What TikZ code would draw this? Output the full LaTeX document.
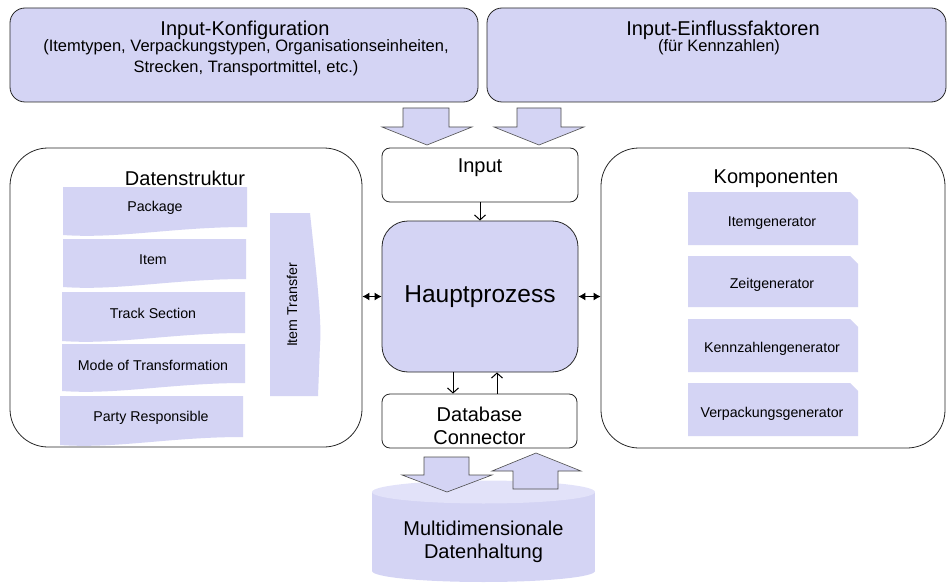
\documentclass[tikz,border=0pt]{standalone}
\usepackage{fontspec}
\setmainfont{Liberation Sans}
\usetikzlibrary{arrows.meta}
\definecolor{lav}{RGB}{212,212,244}
\definecolor{lavtop}{RGB}{226,226,249}
\begin{document}
\begin{tikzpicture}[x=1pt,y=-1pt,
  topbox/.style={draw=black!85, line width=0.8pt, fill=lav, rounded corners=15pt, inner sep=0pt},
  panel/.style={draw=black!85, line width=0.8pt, fill=white, rounded corners=38pt, inner sep=0pt},
  wbox/.style={draw=black!85, line width=0.8pt, fill=white, rounded corners=8pt, inner sep=0pt},
  hbox/.style={draw=black!85, line width=0.8pt, fill=lav, rounded corners=26pt, inner sep=0pt},
  lbl/.style={inner sep=0pt, align=center},
  big/.style={font=\fontsize{20}{23}\selectfont},
  sub/.style={font=\fontsize{16.5}{21}\selectfont},
  small/.style={font=\fontsize{14.2}{16}\selectfont},
  barrow/.style={fill=lav, draw=black!70, line width=0.6pt, line join=miter},
  conn/.style={line width=1pt, -{Straight Barb[length=5pt,width=11pt]}},
  dbl/.style={line width=1pt, {Latex[length=7pt,width=8pt]}-{Latex[length=7pt,width=8pt]}}
]
\useasboundingbox (0,0) rectangle (948,583);

% top boxes
\node[topbox, minimum width=468pt, minimum height=94pt] (konf) at (244,55) {};
\node[lbl, big] (konfT) at (245,30) {Input-Konfiguration};
\node[lbl, sub] (konfS) at (246,57.5) {(Itemtypen, Verpackungstypen, Organisationseinheiten,\\Strecken, Transportmittel, etc.)};
\node[topbox, minimum width=459pt, minimum height=94pt] (einf) at (716.5,55) {};
\node[lbl, big] (einfT) at (723,30) {Input-Einflussfaktoren};
\node[lbl, sub] (einfS) at (719,47.5) {(für Kennzahlen)};

% block arrows top
\filldraw[barrow] (403,108) -- (449,108) -- (449,127) -- (472,127) -- (427,145) -- (382,127) -- (403,127) -- cycle;
\filldraw[barrow] (517,108) -- (561,108) -- (561,127) -- (584,127) -- (539,145) -- (494,127) -- (517,127) -- cycle;

% panels
\node[panel, minimum width=352pt, minimum height=299pt] (left) at (186,297.5) {};
\node[panel, minimum width=344pt, minimum height=300pt] (right) at (773,298) {};

% center column
\node[wbox, minimum width=196pt, minimum height=54pt] (input) at (480,175) {};
\node[lbl, big] (inputT) at (480,168) {Input};
\node[hbox, minimum width=196pt, minimum height=151pt] (haupt) at (480,296.5) {};
\node[lbl, font=\fontsize{24.5}{28}\selectfont] (hauptT) at (480,297) {Hauptprozess};
\node[wbox, minimum width=195pt, minimum height=54pt] (dbc) at (479.5,421) {};
\node[lbl, big] (dbcT) at (479.5,425.5) {Database\\Connector};

% connectors
\draw[conn] (input.south) -- (haupt.north);
\draw[conn] ([xshift=-27pt]haupt.south) -- ([xshift=-26.5pt]dbc.north);
\draw[conn] ([xshift=17.5pt]dbc.north) -- ([xshift=17pt]haupt.south);
\draw[dbl] (left.east |- haupt.west) -- (haupt.west);
\draw[dbl] (haupt.east) -- (right.west |- haupt.east);

% cylinder
\fill[lav] (372,492) rectangle (595,571);
\fill[lav] (483.5,571) ellipse [x radius=111.5, y radius=11];
\fill[lavtop] (483.5,492) ellipse [x radius=111.5, y radius=11.5];
\node[lbl, big] (store) at (483.5,541.5) {Multidimensionale\\Datenhaltung};

% block arrows bottom
\filldraw[barrow] (424,457) -- (469,457) -- (469,475) -- (492,475) -- (447,492) -- (402,475) -- (424,475) -- cycle;
\filldraw[barrow] (513,489) -- (558,489) -- (558,471) -- (581,471) -- (536,453) -- (492,471) -- (513,471) -- cycle;

% Datenstruktur
\node[lbl, big] (dsT) at (185,178) {Datenstruktur};
\newcommand\wavebox[5]{%
  \fill[lav] (#1,#3) -- (#2,#3) -- (#2,#5)
    .. controls ({#2-0.4*(#2-#1)},#5) and ({#1+0.3*(#2-#1)},{#4+4}) .. (#1,#4) -- cycle;}
\wavebox{63}{247}{187}{235}{227}
\wavebox{63}{246}{239}{287}{279}
\wavebox{62}{245}{292}{341}{333}
\wavebox{62}{245}{344}{391}{383}
\wavebox{60}{243}{396}{445}{437}
\node[lbl, small] (pkg) at (155,208) {Package};
\node[lbl, small] (item) at (153,260) {Item};
\node[lbl, small] (track) at (153,313) {Track Section};
\node[lbl, small] (mode) at (153,365) {Mode of Transformation};
\node[lbl, small] (party) at (151,418) {Party Responsible};
\fill[lav] (270,213) -- (310,213) .. controls (316,270) and (322,320) .. (320,345) -- (318,396) -- (270,396) -- cycle;
\node[lbl, small, rotate=90] (transfer) at (292,305) {Item Transfer};

% Komponenten
\node[lbl, big] (kompT) at (776,179) {Komponenten};
\newcommand\snipbox[2]{%
  \fill[lav] (688,#1) -- (850,#1) -- (858,{#1+8}) -- (858,#2) -- (688,#2) -- cycle;}
\snipbox{192}{245}
\snipbox{256}{307}
\snipbox{319}{372}
\snipbox{383}{436}
\node[lbl, small] (g1) at (772,223) {Itemgenerator};
\node[lbl, small] (g2) at (772,285) {Zeitgenerator};
\node[lbl, small] (g3) at (772,349) {Kennzahlengenerator};
\node[lbl, small] (g4) at (772,414) {Verpackungsgenerator};
\end{tikzpicture}
\end{document}
